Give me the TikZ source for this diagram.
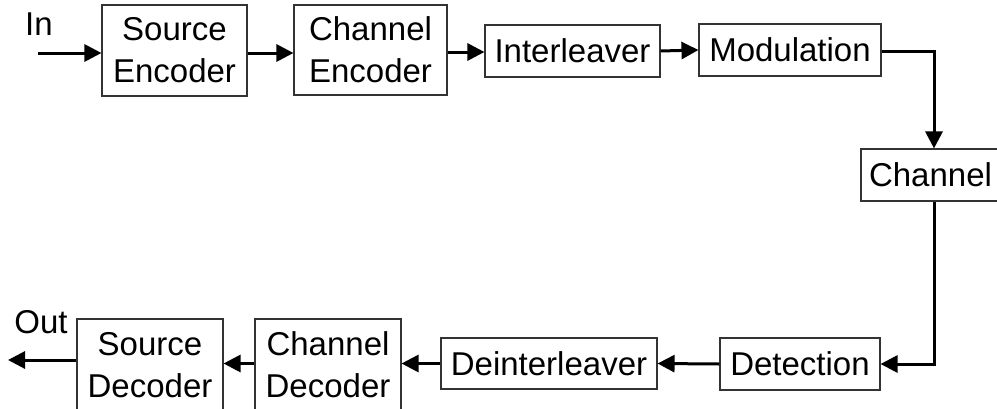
\documentclass[tikz,border=0pt]{standalone}
\usepackage{fontspec}
\setmainfont{Liberation Sans}
\usetikzlibrary{arrows.meta}
\begin{document}
\begin{tikzpicture}[x=1pt,y=-1pt,
  blk/.style={draw=black!80,line width=1.1pt,inner sep=0pt,align=center,
    font=\fontsize{33}{42}\selectfont},
  arr/.style={line width=3pt,-{Triangle[length=17pt,width=17pt]}},
  lbl/.style={inner sep=0pt,font=\fontsize{33}{38}\selectfont}]
\useasboundingbox (0,0) rectangle (997,408);
% top row
\node[blk,minimum width=145pt,minimum height=91pt] (srcenc) at (174.5,50.5) {Source\\Encoder};
\node[blk,minimum width=153pt,minimum height=90pt] (chenc) at (370.5,50) {Channel\\Encoder};
\node[blk,minimum width=175pt,minimum height=52pt] (inter) at (572.5,51) {Interleaver};
\node[blk,minimum width=182pt,minimum height=52pt] (mod) at (790,50) {Modulation};
\node[blk,minimum width=139pt,minimum height=52pt] (channel) at (930.5,175) {Channel};
% bottom row
\node[blk,minimum width=160pt,minimum height=52pt] (detect) at (800,364) {Detection};
\node[blk,minimum width=216pt,minimum height=51pt] (deint) at (549,363.5) {Deinterleaver};
\node[blk,minimum width=146pt,minimum height=92pt] (chdec) at (328,365) {Channel\\Decoder};
\node[blk,minimum width=146pt,minimum height=92pt] (srcdec) at (150,365) {Source\\Decoder};
% labels
\node[lbl] (inlbl) at (39,24) {In};
\node[lbl] (outlbl) at (41,322) {Out};
\coordinate (instart) at (38,53);
\coordinate (outend) at (8,360);
\coordinate (rt) at (934,51);
\coordinate (rb) at (934,364);
% connectors
\draw[arr] (instart) -- (instart -| srcenc.west);
\draw[arr] (srcenc.east |- instart) -- (chenc.west |- instart);
\draw[arr] (chenc.east |- 0,52) -- (inter.west |- 0,52);
\draw[arr] (inter.east) -- (mod.west);
\draw[arr] (mod.east |- rt) -- (rt) -- (rt |- channel.north);
\draw[arr] (rt |- channel.south) -- (rb) -- (detect.east |- rb);
\draw[arr] (detect.west) -- (deint.east);
\draw[arr] (deint.west) -- (chdec.east |- deint.west);
\draw[arr] (chdec.west |- deint.west) -- (srcdec.east |- deint.west);
\draw[arr] (srcdec.west |- outend) -- (outend);
\end{tikzpicture}
\end{document}
